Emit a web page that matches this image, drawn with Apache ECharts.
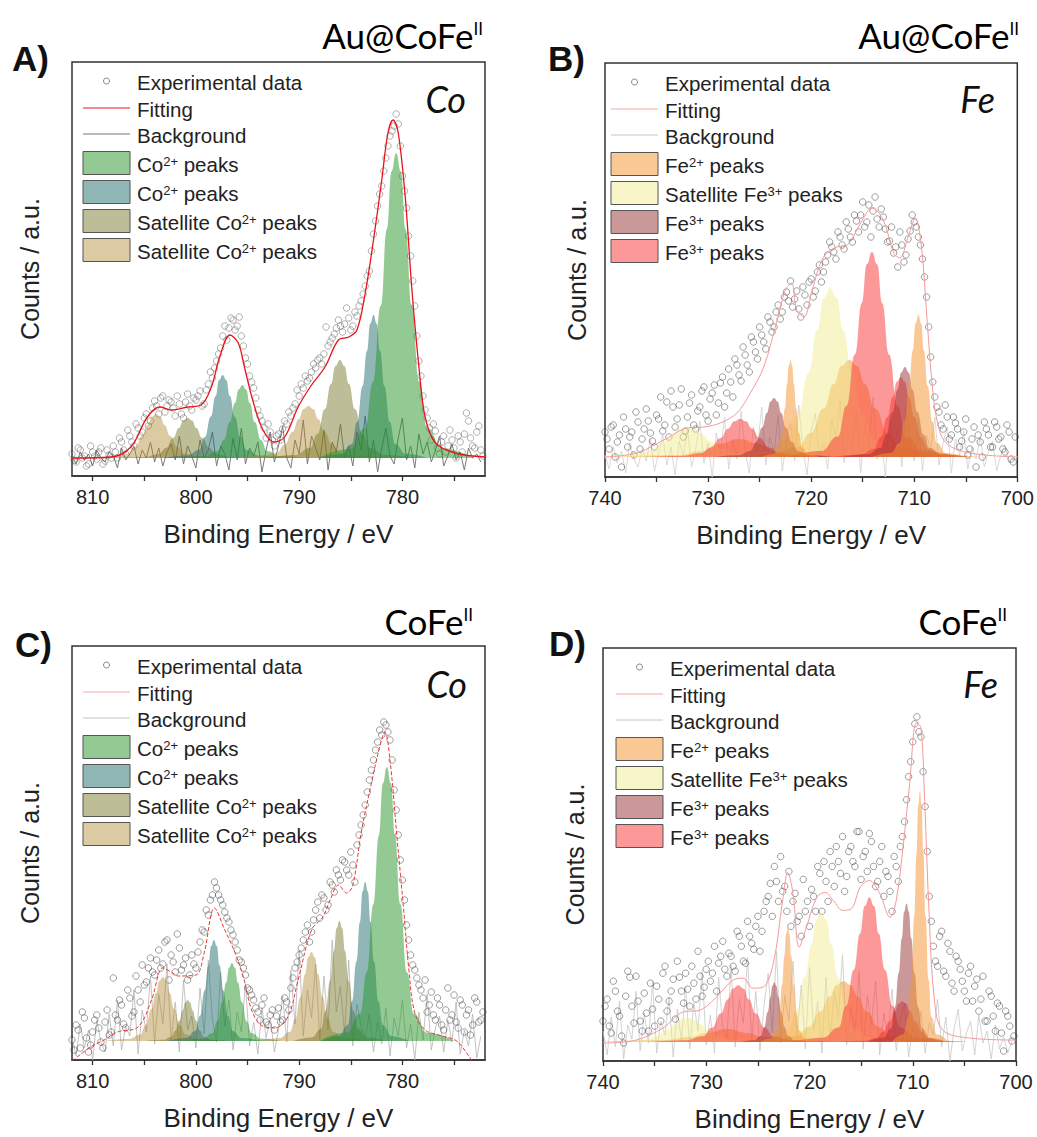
<!DOCTYPE html>
<html><head><meta charset="utf-8">
<script src="https://cdn.jsdelivr.net/npm/echarts@6/dist/echarts.min.js"></script>
<style>html,body{margin:0;padding:0;background:#fff;}#c{width:1037px;height:1137px;}</style>
</head><body><div id="c"></div>
<script>
// ---------- axis ticks ----------
const coTicks = [775, 780, 785, 790, 795, 800, 805, 810];
const coLabels = [780, 790, 800, 810];
const feTicks = [700, 705, 710, 715, 720, 725, 730, 735, 740];
const feLabels = [700, 710, 720, 730, 740];

// ---------- experimental data (0.4 eV steps, high -> low binding energy; two interleaved scans) ----------
const expStep = 0.4;
const expStartA = 812.0, expStartA2 = 811.8;
const expA = [22,14,26,20,12,24,17,28,15,21, 30,18,34,22,40,30,48,44,62,55,
  75,62,80,70,74,60,72,58,82,66, 76,85,72,92,98,115,128,150,148,156,
  150,140,118,100,88,66,55,38,44,30, 42,47,52,60,72,80,88,95,104,108,
  118,122,130,138,148,150,152,158,150,160, 175,190,205,242,270,290,318,340,350,352,
  300,268,220,170,115,80,58,36,45,22, 40,30,36,18,34,42,55,30,44,26];
const expA2 = [16,28,18,10,30,20,24,12,26,18, 24,38,26,46,34,52,40,58,50,68,
  70,78,64,76,68,80,62,74,70,78, 80,70,86,104,108,122,140,136,158,146,
  159,130,112,94,78,60,48,52,36,40, 36,55,64,68,86,92,100,98,112,116,
  112,149,134,142,156,144,168,146,164,170, 182,200,225,255,282,305,330,345,362,330,
  285,240,195,140,100,66,48,52,28,34, 24,46,28,40,24,63,38,28,50,20];
const expStartB = 740.0, expStartB2 = 739.8;
const expB = [45,28,52,35,10,48,40,22,55,38, 68,44,30,58,46,75,86,50,72,40,
  60,82,48,70,90,56,84,62,94,70, 108,80,112,96,122,105,135,118,142,128,
  155,150,172,165,185,196,178,168,190,172, 198,186,212,205,222,230,218,240,228,248,
  235,256,262,250,272,266,258,268,248,236, 224,210,232,222,246,255,240,218,180,120,
  80,65,48,60,42,54,30,45,22,38, 10,35,55,42,30,50,40,25,45,15];
const expB2 = [38,50,20,42,60,30,45,65,28,48, 56,36,62,80,52,40,70,58,88,46,
  74,52,66,86,62,78,92,74,100,84, 95,118,102,130,112,140,125,150,135,160,
  145,165,158,180,176,170,186,160,182,195, 180,205,195,215,235,225,245,232,255,240,
  262,245,275,255,240,280,250,260,235,250, 230,245,215,238,262,250,232,200,150,95,
  70,52,72,38,60,48,36,58,28,50, 42,20,48,30,55,38,28,52,18,40];
const expStartC = 812.0, expStartC2 = 811.8;
const expC = [20,35,12,42,8,28,45,18,38,25, 82,40,55,32,62,48,70,95,78,102,
  85,110,96,120,105,88,112,95,80,105, 92,118,128,145,165,172,160,148,138,125,
  110,98,85,70,60,48,55,38,45,30, 52,40,58,72,92,105,120,135,128,150,
  142,162,155,175,190,180,198,185,195,215, 235,255,280,300,318,325,335,320,270,225,
  180,135,105,90,75,62,48,68,40,55, 30,72,45,38,60,28,50,35,58,40];
const expC2 = [10,30,48,22,15,40,32,12,50,28, 45,60,36,70,44,84,58,75,92,88,
  100,92,118,80,98,126,90,102,85,96, 108,130,150,160,178,165,155,142,130,118,
  100,92,72,65,52,40,62,35,50,44, 38,62,50,82,98,112,128,118,140,158,
  165,150,178,168,185,200,190,208,178,225, 245,268,290,310,330,338,328,300,250,200,
  160,120,95,82,70,80,55,45,62,35, 50,40,65,32,55,45,25,62,38,48];
const expStartD = 740.0, expStartD2 = 739.8;
const expD = [40,62,28,70,45,18,90,55,85,40, 68,30,52,75,40,95,60,82,100,70,
  88,55,78,110,65,92,80,115,98,120, 85,105,90,125,100,140,118,135,110,150,
  165,145,180,205,175,190,160,140,125,150, 135,165,195,150,180,210,175,200,225,185,
  215,195,230,205,190,220,175,200,165,185, 150,195,215,240,285,320,345,325,255,165,
  115,95,130,85,110,70,100,80,60,95, 75,50,85,40,65,30,55,10,45,20];
const expD2 = [55,35,80,50,25,65,84,38,60,30, 48,78,35,62,88,50,70,42,84,58,
  72,95,62,85,74,100,88,70,105,92, 108,95,130,115,98,125,112,145,130,160,
  178,195,160,170,150,135,168,145,182,160, 172,150,188,200,160,195,215,188,170,210,
  200,230,182,210,228,195,180,215,190,170, 205,180,225,262,300,338,330,290,210,140,
  100,125,90,118,78,105,92,70,88,60, 82,62,40,70,45,58,28,50,35,25];

// ---------- background traces (same grid as first scan) ----------
const bgA = [20,12,24,16,22,10,26,18,14,24, 20,8,28,16,22,30,12,26,18,34, 14,28,10,24,32,16,40,12,30,20,
  8,36,18,26,44,10,30,22,6,38, 16,48,12,28,20,34,4,26,44,14, 30,50,18,8,36,22,56,12,40,28,
  16,46,6,34,24,52,18,30,10,44, 26,60,14,36,4,28,48,20,12,38, 58,16,30,8,42,22,34,14,26,40,
  10,20,32,16,24,6,28,18,22,14];
const bgB = [22,8,30,14,26,4,34,18,10,28, 16,38,6,24,42,12,30,2,36,20, 48,10,28,56,14,34,0,44,22,60,
  8,38,18,66,26,4,50,30,70,12, 40,24,62,6,36,54,16,72,28,2, 46,64,20,34,8,58,38,76,14,44,
  26,68,4,52,30,80,18,40,0,62, 24,48,10,70,36,16,56,6,42,28, 60,12,34,50,4,38,22,46,8,30,
  18,40,10,26,36,6,22,32,14,20];
const bgC = [22,4,36,12,30,0,40,18,8,46, 14,60,10,34,24,70,6,50,28,84, 16,66,36,96,20,58,8,80,30,44,
  12,72,26,100,40,18,88,34,60,10, 48,28,76,14,38,6,52,22,42,8, 30,64,18,90,36,110,24,70,42,96,
  20,84,30,120,48,74,26,100,14,56, 34,22,46,8,38,16,52,4,42,24, 60,12,36,0,48,20,66,10,32,44,
  8,40,18,58,6,30,14,46,2,24];
const bgD = [30,6,44,14,60,2,36,22,70,10, 48,18,80,8,40,26,64,4,52,20, 74,12,58,30,90,16,46,8,84,34,
  22,96,14,62,38,104,20,70,10,56, 88,28,110,18,66,40,100,24,76,12, 94,30,60,8,84,20,70,44,106,16,
  54,28,90,12,66,36,80,6,48,24, 72,10,42,58,4,34,20,50,8,38, 26,62,14,44,0,32,52,10,28,40,
  6,46,18,30,2,36,12,24,8,20];

// ---------- fitting envelopes [eV, counts] ----------
const fitA = [[772.0,19],[774.9,23],[776.8,33],[777.8,59],[778.4,109],[779.1,189],[779.7,276],[780.4,343],[780.9,356],[781.4,343],[782.0,296],[782.8,236],[783.6,183],[784.4,146],[785.2,139],[786.2,136],[787.5,109],[788.8,91],[790.1,69],[791.4,39],[792.4,34],[793.5,46],[794.5,76],[795.3,109],[795.9,133],[796.7,141],[797.7,119],[798.5,89],[799.5,71],[800.8,69],[802.4,66],[803.5,69],[804.7,59],[806.3,29],[808.2,19],[812.1,18]];
const fitB = [[699.9,20],[704.6,24],[706.9,34],[707.8,57],[708.3,97],[708.8,164],[709.3,230],[709.9,259],[710.6,240],[711.4,219],[712.0,224],[713.0,257],[714.1,269],[715.2,254],[716.5,232],[717.5,230],[718.8,220],[719.9,187],[720.7,160],[721.4,167],[721.9,194],[722.5,187],[723.3,157],[724.6,110],[725.9,84],[727.2,64],[728.8,54],[730.4,50],[732.0,49],[734.3,37],[736.9,24],[740.1,20]];
const fitC = [[772.5,-10],[773.3,0],[774.2,13],[774.9,20],[776.5,25],[777.8,30],[778.8,47],[779.4,93],[779.9,153],[780.5,220],[781.2,300],[781.7,328],[782.2,313],[783.0,277],[784.0,227],[784.8,175],[785.4,167],[786.2,175],[787.0,160],[787.7,143],[788.8,130],[790.1,80],[791.1,43],[792.4,32],[793.7,35],[794.6,50],[795.4,83],[796.2,107],[797.2,130],[798.2,152],[799.2,107],[800.0,85],[801.7,84],[802.4,88],[803.2,92],[804.3,60],[805.6,33],[807.6,28],[808.9,20],[810.2,13],[812.1,-2]];
const fitD = [[700.0,21],[704.5,23],[707.1,31],[707.9,61],[708.4,144],[708.85,261],[709.2,334],[709.65,339],[710.3,278],[710.9,218],[711.6,161],[712.2,144],[713.2,168],[714.2,181],[715.1,174],[715.9,153],[716.8,151],[717.7,161],[718.5,169],[719.3,164],[720.3,134],[721.0,114],[721.6,168],[722.1,189],[722.6,161],[723.5,98],[724.5,74],[725.5,73],[726.4,83],[727.4,81],[729.3,61],[730.6,51],[732.3,49],[734.2,33],[736.8,21],[740.0,18]];

// ---------- fitted component peaks [eV, counts] ----------
// Panel A (Au@CoFe, Co 2p)
const pA_co_green1 = [[773.1,18],[776.1,27],[777.6,48],[778.35,94],[779.1,170],[779.7,247],[780.15,304.7],[780.6,323],[781.05,304.7],[781.5,247],[782.1,170],[782.85,94],[783.6,48],[785.1,27],[788.1,18]];
const pA_co_teal1 = [[777.55,18],[779.65,22],[780.7,32],[781.22,54],[781.75,90],[782.17,125],[782.49,152.4],[782.8,161],[783.11,152.4],[783.43,125],[783.85,90],[784.38,54],[784.9,32],[785.95,22],[788.05,18]];
const pA_sat_olive1 = [[778.8,18],[781.7,21],[783.15,28],[783.87,42],[784.6,67],[785.18,92],[785.62,110.1],[786.05,116],[786.48,110.1],[786.92,92],[787.5,67],[788.23,42],[788.95,28],[790.4,21],[793.3,18]];
const pA_sat_tan1 = [[781.35,18],[784.45,20],[786.0,23],[786.77,31],[787.55,44],[788.17,57],[788.64,66.9],[789.1,70],[789.57,66.9],[790.03,57],[790.65,44],[791.43,31],[792.2,23],[793.75,20],[796.85,18]];
const pA_co_green2 = [[789.5,18],[791.9,20],[793.1,25],[793.7,36],[794.3,54],[794.78,73],[795.14,86.6],[795.5,91],[795.86,86.6],[796.22,73],[796.7,54],[797.3,36],[797.9,25],[799.1,20],[801.5,18]];
const pA_co_teal2 = [[791.65,18],[793.95,20.5],[795.1,26],[795.67,39],[796.25,59.5],[796.71,80],[797.06,96],[797.4,101],[797.75,96],[798.09,80],[798.55,59.5],[799.13,39],[799.7,26],[800.85,20.5],[803.15,18]];
const pA_sat_olive2 = [[793.8,18],[796.6,19],[798.0,22],[798.7,28],[799.4,38],[799.96,48],[800.38,55.6],[800.8,58],[801.22,55.6],[801.64,48],[802.2,38],[802.9,28],[803.6,22],[805.0,19],[807.8,18]];
const pA_sat_tan2 = [[797.1,18],[799.8,19.3],[801.15,22.4],[801.82,29],[802.5,40],[803.04,51],[803.45,59.4],[803.85,62],[804.26,59.4],[804.66,51],[805.2,40],[805.88,29],[806.55,22.4],[807.9,19.3],[810.6,18]];
// Panel B (Au@CoFe, Fe 2p)
const pB_fe2_a = [[705.1,20],[706.9,24],[707.8,34],[708.25,55.5],[708.7,91],[709.06,126.5],[709.33,153.5],[709.6,162],[709.87,153.5],[710.14,126.5],[710.5,91],[710.95,55.5],[711.4,34],[712.3,24],[714.1,20]];
const pB_fe2_b = [[719.25,20],[720.35,23],[720.9,29.7],[721.17,44],[721.45,68.5],[721.67,93],[721.84,111.2],[722.0,117],[722.17,111.2],[722.33,93],[722.55,68.5],[722.83,44],[723.1,29.7],[723.65,23],[724.75,20]];
const pB_fe2_c = [[703.8,20],[708.8,23],[711.3,29.7],[712.55,44],[713.8,68.5],[714.8,93],[715.55,111.2],[716.3,117],[717.05,111.2],[717.8,93],[718.8,68.5],[720.05,44],[721.3,29.7],[723.8,23],[728.8,20]];
const pB_fe2_d = [[715,20],[721,22],[723.5,26],[725,33],[727,38],[729,33],[730.5,26],[733,22],[739,20]];
const pB_sat_a = [[707.65,20],[711.85,25],[713.95,37],[715.0,62],[716.05,104.5],[716.89,146.75],[717.52,178.9],[718.15,189],[718.78,178.9],[719.41,146.75],[720.25,104.5],[721.3,62],[722.35,37],[724.45,25],[728.65,20]];
const pB_sat_b = [[720.25,20],[724.95,21],[727.3,23],[728.47,27.5],[729.65,35],[730.59,42.5],[731.3,48.2],[732.0,50],[732.7,48.2],[733.41,42.5],[734.35,35],[735.53,27.5],[736.7,23],[739.05,21],[740,20.5]];
const pB_fe3br_a = [[704.9,20],[707.3,22.7],[708.5,29],[709.1,42.5],[709.7,65],[710.18,87.5],[710.54,104.6],[710.9,110],[711.26,104.6],[711.62,87.5],[712.1,65],[712.7,42.5],[713.3,29],[714.5,22.7],[716.9,20]];
const pB_fe3br_b = [[717.85,20],[720.15,21.8],[721.3,26],[721.87,35],[722.45,49.5],[722.91,64],[723.26,75.5],[723.6,79],[723.95,75.5],[724.29,64],[724.75,49.5],[725.33,35],[725.9,26],[727.05,21.8],[729.35,20]];
const pB_fe3red_a = [[705.85,20],[709.15,26],[710.8,40.5],[711.62,71],[712.45,122.5],[713.11,173.75],[713.6,212.7],[714.1,225],[714.6,212.7],[715.09,173.75],[715.75,122.5],[716.58,71],[717.4,40.5],[719.05,26],[722.35,20]];
const pB_fe3red_b = [[717.4,20],[721.2,21.1],[723.1,23.8],[724.05,29.5],[725.0,39],[725.76,48.5],[726.33,55.7],[726.9,58],[727.47,55.7],[728.04,48.5],[728.8,39],[729.75,29.5],[730.7,23.8],[732.6,21.1],[736.4,20]];
const pB_fe3red_c = [[704.8,20],[707.4,22.4],[708.7,28],[709.35,40],[710.0,60],[710.52,80],[710.91,95.2],[711.3,100],[711.69,95.2],[712.08,80],[712.6,60],[713.25,40],[713.9,28],[715.2,22.4],[717.8,20]];
// Panel C (CoFe, Co 2p)
const pC_co_green1 = [[775.0,19],[777.6,27.2],[778.9,46.4],[779.55,87.5],[780.2,156],[780.72,224.5],[781.11,276.6],[781.5,293],[781.89,276.6],[782.28,224.5],[782.8,156],[783.45,87.5],[784.1,46.4],[785.4,27.2],[788.0,19]];
const pC_co_teal1 = [[779.35,19],[781.05,23.8],[781.9,34.9],[782.32,58.75],[782.75,98.5],[783.09,138.25],[783.35,168.5],[783.6,178],[783.86,168.5],[784.11,138.25],[784.45,98.5],[784.88,58.75],[785.3,34.9],[786.15,23.8],[787.85,19]];
const pC_sat_olive1 = [[781.6,19],[783.4,22.6],[784.3,31],[784.75,49],[785.2,79],[785.56,109],[785.83,131.8],[786.1,139],[786.37,131.8],[786.64,109],[787.0,79],[787.45,49],[787.9,31],[788.8,22.6],[790.6,19]];
const pC_sat_tan1 = [[783.55,19],[785.65,21.7],[786.7,27.9],[787.22,41.25],[787.75,63.5],[788.17,85.75],[788.49,102.7],[788.8,108],[789.12,102.7],[789.43,85.75],[789.85,63.5],[790.38,41.25],[790.9,27.9],[791.95,21.7],[794.05,19]];
const pC_co_green2 = [[791.75,19],[793.65,21.3],[794.6,26.8],[795.07,38.5],[795.55,58],[795.93,77.5],[796.22,92.3],[796.5,97],[796.79,92.3],[797.07,77.5],[797.45,58],[797.93,38.5],[798.4,26.8],[799.35,21.3],[801.25,19]];
const pC_co_teal2 = [[793.75,19],[795.55,22],[796.45,29.1],[796.9,44.25],[797.35,69.5],[797.71,94.75],[797.98,113.9],[798.25,120],[798.52,113.9],[798.79,94.75],[799.15,69.5],[799.6,44.25],[800.05,29.1],[800.95,22],[802.75,19]];
const pC_sat_olive2 = [[796.8,19],[798.4,20.2],[799.2,23.1],[799.6,29.25],[800.0,39.5],[800.32,49.75],[800.56,57.5],[800.8,60],[801.04,57.5],[801.28,49.75],[801.6,39.5],[802.0,29.25],[802.4,23.1],[803.2,20.2],[804.8,19]];
const pC_sat_tan2 = [[797.7,19],[799.9,20.9],[801.0,25.4],[801.55,35],[802.1,51],[802.54,67],[802.87,79.2],[803.2,83],[803.53,79.2],[803.86,67],[804.3,51],[804.85,35],[805.4,25.4],[806.5,20.9],[808.7,19]];
// Panel D (CoFe, Fe 2p)
const pD_fe2_a = [[706.55,19],[707.65,26.6],[708.2,44.2],[708.47,82],[708.75,145],[708.97,208],[709.14,255.9],[709.3,271],[709.47,255.9],[709.63,208],[709.85,145],[710.13,82],[710.4,44.2],[710.95,26.6],[712.05,19]];
const pD_fe2_b = [[719.35,19],[720.45,22.5],[721.0,30.5],[721.27,47.75],[721.55,76.5],[721.77,105.25],[721.94,127.1],[722.1,134],[722.27,127.1],[722.43,105.25],[722.65,76.5],[722.93,47.75],[723.2,30.5],[723.75,22.5],[724.85,19]];
const pD_fe2_c = [[705.45,19],[709.95,20.8],[712.2,25.1],[713.32,34.25],[714.45,49.5],[715.35,64.75],[716.03,76.3],[716.7,80],[717.38,76.3],[718.05,64.75],[718.95,49.5],[720.08,34.25],[721.2,25.1],[723.45,20.8],[727.95,19]];
const pD_fe2_d = [[716,19],[722,21],[724.5,24],[726,28],[728,32],[730,28],[731.5,24],[734,21],[740,19]];
const pD_sat_a = [[710.85,19],[714.05,22.9],[715.65,32],[716.45,51.5],[717.25,84],[717.89,116.5],[718.37,141.2],[718.85,149],[719.33,141.2],[719.81,116.5],[720.45,84],[721.25,51.5],[722.05,32],[723.65,22.9],[726.85,19]];
const pD_sat_b = [[721.8,19],[725.8,19.7],[727.8,21.4],[728.8,25],[729.8,31],[730.6,37],[731.2,41.6],[731.8,43],[732.4,41.6],[733.0,37],[733.8,31],[734.8,25],[735.8,21.4],[737.8,19.7],[740,19.2]];
const pD_fe3br_a = [[706.85,19],[708.35,23.2],[709.1,32.9],[709.47,53.75],[709.85,88.5],[710.15,123.25],[710.38,149.7],[710.6,158],[710.83,149.7],[711.05,123.25],[711.35,88.5],[711.73,53.75],[712.1,32.9],[712.85,23.2],[714.35,19]];
const pD_fe3br_b = [[720.15,19],[721.45,20.8],[722.1,25],[722.42,34],[722.75,49],[723.01,64],[723.21,75.4],[723.4,79],[723.6,75.4],[723.79,64],[724.05,49],[724.38,34],[724.7,25],[725.35,20.8],[726.65,19]];
const pD_fe3red_a = [[706.7,19],[709.7,23.4],[711.2,33.5],[711.95,55.25],[712.7,91.5],[713.3,127.75],[713.75,155.3],[714.2,164],[714.65,155.3],[715.1,127.75],[715.7,91.5],[716.45,55.25],[717.2,33.5],[718.7,23.4],[721.7,19]];
const pD_fe3red_b = [[718.4,19],[721.8,20.7],[723.5,24.7],[724.35,33.25],[725.2,47.5],[725.88,61.75],[726.39,72.6],[726.9,76],[727.41,72.6],[727.92,61.75],[728.6,47.5],[729.45,33.25],[730.3,24.7],[732.0,20.7],[735.4,19]];
const pD_fe3red_c = [[704.75,19],[707.25,20.2],[708.5,23.1],[709.12,29.25],[709.75,39.5],[710.25,49.75],[710.63,57.5],[711.0,60],[711.38,57.5],[711.75,49.75],[712.25,39.5],[712.88,29.25],[713.5,23.1],[714.75,20.2],[717.25,19]];

// ---------- styling ----------
const C_GREEN = 'rgba(40,150,40,0.5)', C_TEAL = 'rgba(35,110,110,0.5)',
      C_OLIVE = 'rgba(115,115,35,0.47)', C_TAN = 'rgba(175,135,45,0.44)';
const F_ORANGE = 'rgba(245,150,50,0.52)', F_YELLOW = 'rgba(240,235,140,0.47)',
      F_BROWN = 'rgba(150,50,50,0.5)', F_RED = 'rgba(250,50,50,0.5)';
const BASE = {A: 18, B: 20, C: 19, D: 19};

const grids = [
  {left: 72, top: 62, width: 413, height: 414},
  {left: 605, top: 63, width: 413, height: 414},
  {left: 72, top: 646, width: 413, height: 414},
  {left: 603, top: 648, width: 413, height: 413}
];

function toXY(start, arr) { return arr.map((v, i) => [+(start - i * expStep).toFixed(2), v]); }

function expSeries(idx, s1, a1, s2, a2, col) {
  return {type: 'scatter', xAxisIndex: idx, yAxisIndex: idx, data: toXY(s1, a1).concat(toXY(s2, a2)), symbol: 'circle', symbolSize: 6.5,
    itemStyle: {color: 'rgba(0,0,0,0)', borderColor: col, borderWidth: 0.9}, silent: true, z: 2};
}
function bgSeries(idx, start, arr, col, w) {
  return {type: 'line', xAxisIndex: idx, yAxisIndex: idx, data: toXY(start, arr), symbol: 'none',
    lineStyle: {color: col, width: w}, silent: true, z: 2};
}
function peak(idx, data, color, base) {
  return {type: 'line', xAxisIndex: idx, yAxisIndex: idx, data: data, smooth: 0.5, smoothMonotone: 'x', symbol: 'none',
    lineStyle: {width: 0}, areaStyle: {color: color, opacity: 1, origin: base}, silent: true, z: 3};
}
function fit(idx, data, color, w, type) {
  return {type: 'line', xAxisIndex: idx, yAxisIndex: idx, data: data, smooth: 0.35, symbol: 'none',
    lineStyle: {color: color, width: w, type: type || 'solid'}, silent: true, z: 5};
}

const series = [
  expSeries(0, expStartA, expA, expStartA2, expA2, 'rgba(70,70,70,0.6)'),
  bgSeries(0, expStartA, bgA, '#7a7a7a', 1),
  peak(0, pA_sat_tan2, C_TAN, BASE.A), peak(0, pA_sat_olive2, C_OLIVE, BASE.A),
  peak(0, pA_co_teal2, C_TEAL, BASE.A), peak(0, pA_co_green2, C_GREEN, BASE.A),
  peak(0, pA_sat_tan1, C_TAN, BASE.A), peak(0, pA_sat_olive1, C_OLIVE, BASE.A),
  peak(0, pA_co_teal1, C_TEAL, BASE.A), peak(0, pA_co_green1, C_GREEN, BASE.A),
  fit(0, fitA, '#e8141c', 1.3),

  expSeries(1, expStartB, expB, expStartB2, expB2, 'rgba(50,50,50,0.65)'),
  bgSeries(1, expStartB, bgB, '#cfcfcf', 0.8),
  peak(1, pB_fe2_d, F_ORANGE, BASE.B), peak(1, pB_fe2_c, F_ORANGE, BASE.B),
  peak(1, pB_sat_b, F_YELLOW, BASE.B), peak(1, pB_sat_a, F_YELLOW, BASE.B),
  peak(1, pB_fe3red_b, F_RED, BASE.B), peak(1, pB_fe3red_a, F_RED, BASE.B), peak(1, pB_fe3red_c, F_RED, BASE.B),
  peak(1, pB_fe3br_b, F_BROWN, BASE.B), peak(1, pB_fe3br_a, F_BROWN, BASE.B),
  peak(1, pB_fe2_b, F_ORANGE, BASE.B), peak(1, pB_fe2_a, F_ORANGE, BASE.B),
  fit(1, fitB, '#f49a9a', 1),

  expSeries(2, expStartC, expC, expStartC2, expC2, 'rgba(50,50,50,0.65)'),
  bgSeries(2, expStartC, bgC, '#b4b4b4', 0.8),
  peak(2, pC_sat_tan2, C_TAN, BASE.C), peak(2, pC_sat_olive2, C_OLIVE, BASE.C),
  peak(2, pC_co_teal2, C_TEAL, BASE.C), peak(2, pC_co_green2, C_GREEN, BASE.C),
  peak(2, pC_sat_tan1, C_TAN, BASE.C), peak(2, pC_sat_olive1, C_OLIVE, BASE.C),
  peak(2, pC_co_teal1, C_TEAL, BASE.C), peak(2, pC_co_green1, C_GREEN, BASE.C),
  fit(2, fitC, '#e83a3a', 1, [4, 2]),

  expSeries(3, expStartD, expD, expStartD2, expD2, 'rgba(50,50,50,0.65)'),
  bgSeries(3, expStartD, bgD, '#c8c8c8', 0.8),
  peak(3, pD_fe2_d, F_ORANGE, BASE.D), peak(3, pD_fe2_c, F_ORANGE, BASE.D),
  peak(3, pD_sat_b, F_YELLOW, BASE.D), peak(3, pD_sat_a, F_YELLOW, BASE.D),
  peak(3, pD_fe3red_b, F_RED, BASE.D), peak(3, pD_fe3red_a, F_RED, BASE.D), peak(3, pD_fe3red_c, F_RED, BASE.D),
  peak(3, pD_fe3br_b, F_BROWN, BASE.D), peak(3, pD_fe3br_a, F_BROWN, BASE.D),
  peak(3, pD_fe2_b, F_ORANGE, BASE.D), peak(3, pD_fe2_a, F_ORANGE, BASE.D),
  fit(3, fitD, '#f49a9a', 1)
];

const FONT = '"Liberation Sans", Arial, sans-serif';
function xAxis(idx, min, max, ticks, labels) {
  return {type: 'value', gridIndex: idx, min: min, max: max, inverse: true,
    axisLine: {show: true, lineStyle: {color: '#333', width: 1.5}},
    axisTick: {show: true, length: 5, customValues: ticks, lineStyle: {color: '#333', width: 1.3}},
    axisLabel: {customValues: labels, fontSize: 20, color: '#222', fontFamily: FONT, margin: 11},
    splitLine: {show: false},
    name: 'Binding Energy / eV', nameLocation: 'middle', nameGap: 45,
    nameTextStyle: {fontSize: 26, color: '#222', fontFamily: FONT}};
}
function yAxis(idx, gap) {
  return {type: 'value', gridIndex: idx, min: 0, max: 414,
    axisLine: {show: false}, axisTick: {show: false}, axisLabel: {show: false}, splitLine: {show: false},
    name: 'Counts / a.u.', nameLocation: 'middle', nameGap: gap, nameRotate: 90,
    nameTextStyle: {fontSize: 25, color: '#222', fontFamily: FONT}};
}

// ---------- text & legend graphics ----------
const legendRows = [19, 46, 72, 101, 130, 159, 188];
const richLeg = {
  n: {fontSize: 20.5, fontFamily: FONT, color: '#222', lineHeight: 22, verticalAlign: 'bottom'},
  s: {fontSize: 13, fontFamily: FONT, color: '#222', lineHeight: 14, verticalAlign: 'bottom', padding: [0, 0, 7, 0]}
};
const coLegend = ['{n|Experimental data}', '{n|Fitting}', '{n|Background}', '{n|Co}{s|2+}{n| peaks}', '{n|Co}{s|2+}{n| peaks}', '{n|Satellite Co}{s|2+}{n| peaks}', '{n|Satellite Co}{s|2+}{n| peaks}'];
const feLegend = ['{n|Experimental data}', '{n|Fitting}', '{n|Background}', '{n|Fe}{s|2+}{n| peaks}', '{n|Satellite Fe}{s|3+}{n| peaks}', '{n|Fe}{s|3+}{n| peaks}', '{n|Fe}{s|3+}{n| peaks}'];
const coSw = [C_GREEN, C_TEAL, C_OLIVE, C_TAN];
const feSw = [F_ORANGE, F_YELLOW, F_BROWN, F_RED];

function legend(g, sx, tx, labels, swatches, fitCol, bgCol) {
  const els = [];
  const x0 = g.left + sx, w = 47;
  labels.forEach((lab, i) => {
    const cy = g.top + legendRows[i];
    if (i === 0) els.push({type: 'circle', shape: {cx: x0 + w / 2, cy: cy, r: 3}, style: {fill: 'none', stroke: '#777', lineWidth: 0.9}, silent: true});
    else if (i === 1) els.push({type: 'line', shape: {x1: x0, y1: cy, x2: x0 + w, y2: cy}, style: {stroke: fitCol, lineWidth: 1.2}, silent: true});
    else if (i === 2) els.push({type: 'line', shape: {x1: x0, y1: cy, x2: x0 + w, y2: cy}, style: {stroke: bgCol, lineWidth: 1}, silent: true});
    else els.push({type: 'rect', shape: {x: x0, y: cy - 11.5, width: w, height: 23}, style: {fill: swatches[i - 3], stroke: '#555', lineWidth: 1}, silent: true});
    els.push({type: 'text', style: {text: lab, rich: richLeg, x: g.left + tx, y: cy + 1, textAlign: 'left', textVerticalAlign: 'middle', fill: '#222'}, silent: true});
  });
  return els;
}
const richTitle = {
  t: {fontSize: 35, fontFamily: 'Lato, "Open Sans", sans-serif', color: '#111', lineHeight: 40, verticalAlign: 'bottom'},
  s: {fontSize: 17, fontFamily: 'Lato, "Open Sans", sans-serif', color: '#111', lineHeight: 20, verticalAlign: 'bottom', padding: [0, 0, 15, 0]}
};
function title(txt, xr, bottom) {
  return {type: 'text', style: {text: '{t|' + txt + '}{s|II}', rich: richTitle, x: xr, y: bottom, textAlign: 'right', textVerticalAlign: 'bottom'}, silent: true};
}
function letter(txt, x, yc) {
  return {type: 'text', style: {text: txt, x: x, y: yc, font: 'bold 35px ' + FONT, fill: '#111', textAlign: 'left', textVerticalAlign: 'middle'}, silent: true};
}
function elem(txt, xr, yc) {
  return {type: 'text', style: {text: txt, x: xr, y: yc, font: 'italic 36px Lato, "Open Sans", sans-serif', fill: '#111', textAlign: 'right', textVerticalAlign: 'middle'}, silent: true};
}

const graphic = [].concat(
  legend(grids[0], 11, 65, coLegend, coSw, '#e8141c', '#777'),
  legend(grids[1], 6, 60, feLegend, feSw, '#f7a8a8', '#c4c4c4'),
  legend(grids[2], 11, 65, coLegend, coSw, '#f7a8a8', '#c4c4c4'),
  legend(grids[3], 13, 67, feLegend, feSw, '#f7a8a8', '#c4c4c4'),
  [title('Au@CoFe', 483, 52), title('Au@CoFe', 1019, 52), title('CoFe', 473, 638), title('CoFe', 1007, 638),
   letter('A)', 12, 58), letter('B)', 548, 58), letter('C)', 15, 644), letter('D)', 549, 643),
   elem('Co', 466, 99), elem('Fe', 995, 99), elem('Co', 467, 684), elem('Fe', 998, 684)]
);

const chart = echarts.init(document.getElementById('c'), null, {renderer: 'svg'});
chart.setOption({
  animation: false,
  backgroundColor: '#fff',
  grid: grids.map(g => Object.assign({show: true, borderColor: '#333', borderWidth: 1.5, backgroundColor: 'rgba(0,0,0,0)'}, g)),
  xAxis: [xAxis(0, 772, 812, coTicks, coLabels), xAxis(1, 700, 740, feTicks, feLabels),
          xAxis(2, 772, 812, coTicks, coLabels), xAxis(3, 700, 740, feTicks, feLabels)],
  yAxis: [yAxis(0, 30), yAxis(1, 16), yAxis(2, 30), yAxis(3, 16)],
  series: series,
  graphic: graphic
});
</script></body></html>
